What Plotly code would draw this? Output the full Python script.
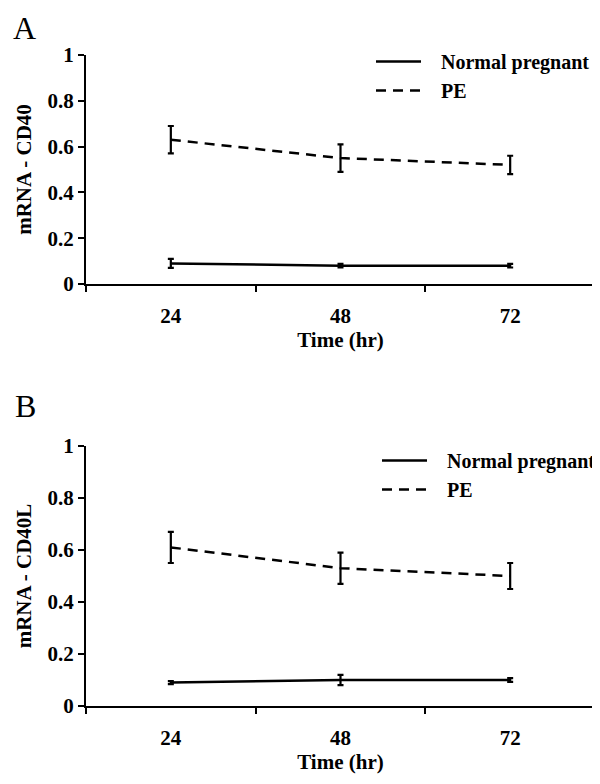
import plotly.graph_objects as go

# ---- data ----
time_labels = ["24", "48", "72"]

cd40_normal = [0.09, 0.08, 0.08]
cd40_normal_err = [0.02, 0.008, 0.008]
cd40_pe = [0.63, 0.55, 0.52]
cd40_pe_err = [0.06, 0.06, 0.04]

cd40l_normal = [0.09, 0.10, 0.10]
cd40l_normal_err = [0.006, 0.02, 0.007]
cd40l_pe = [0.61, 0.53, 0.50]
cd40l_pe_err = [0.06, 0.06, 0.05]

series_names = ["Normal pregnant", "PE"]

# page is 600x784; the browser's default 8px body margin offsets the figure
OFF = 8
W, H = 600 - OFF, 784 - OFF
FONT = "Liberation Serif"
BLACK = "#000000"
PAD = "\u00a0\u00a0\u00a0"


def py(p):
    """page pixel (from top) -> paper y"""
    return 1 - (p - OFF) / H


def px_x(p):
    """page pixel (from left) -> paper x"""
    return (p - OFF) / W


fig = go.Figure()


def add_panel(xa, ya, normal, nerr, pe, peerr, legend):
    fig.add_trace(go.Scatter(
        x=time_labels, y=normal, name=PAD + series_names[0], mode="lines",
        line=dict(color=BLACK, width=2.5),
        error_y=dict(type="data", array=nerr, visible=True, color=BLACK,
                     thickness=2.2, width=3),
        xaxis=xa, yaxis=ya, legend=legend))
    fig.add_trace(go.Scatter(
        x=time_labels, y=pe, name=PAD + series_names[1], mode="lines",
        line=dict(color=BLACK, width=2.5, dash="10px,7px"),
        error_y=dict(type="data", array=peerr, visible=True, color=BLACK,
                     thickness=2.2, width=3),
        xaxis=xa, yaxis=ya, legend=legend))


add_panel("x", "y", cd40_normal, cd40_normal_err, cd40_pe, cd40_pe_err, "legend")
add_panel("x2", "y2", cd40l_normal, cd40l_normal_err, cd40l_pe, cd40l_pe_err, "legend2")

tick_font = dict(family=FONT, size=21, color=BLACK, weight="bold")
title_font = dict(family=FONT, size=21, color=BLACK, weight="bold")
legend_font = dict(family=FONT, size=20, color=BLACK, weight="bold")

xaxis_common = dict(
    type="category", range=[-0.5, 2.5], showgrid=False, zeroline=False,
    showline=True, linecolor=BLACK, linewidth=2,
    ticks="outside", ticklen=6, tickwidth=1.5, tickcolor=BLACK,
    tickson="boundaries", tickfont=tick_font, ticklabelstandoff=12,
    title=dict(text="Time (hr)", font=title_font, standoff=0),
    domain=[px_x(86), px_x(595)],
)
yaxis_common = dict(
    range=[0, 1], dtick=0.2, showgrid=False, zeroline=False,
    showline=True, linecolor=BLACK, linewidth=2,
    ticks="outside", ticklen=6, tickwidth=1.5, tickcolor=BLACK,
    tickfont=tick_font,
)

fig.update_layout(
    width=W, height=H,
    margin=dict(l=0, r=0, t=0, b=0, autoexpand=False),
    paper_bgcolor="white", plot_bgcolor="white",
    xaxis=dict(**xaxis_common, anchor="y"),
    yaxis=dict(**yaxis_common, anchor="x", domain=[py(284), py(55)],
               title=dict(text="mRNA - CD40", font=title_font, standoff=10)),
    xaxis2=dict(**xaxis_common, anchor="y2"),
    yaxis2=dict(**yaxis_common, anchor="x2", domain=[py(706), py(446)],
                title=dict(text="mRNA - CD40L", font=title_font, standoff=10)),
    legend=dict(x=px_x(371), y=py(42), xanchor="left", yanchor="top",
                font=legend_font, bgcolor="rgba(0,0,0,0)", itemwidth=45,
                tracegroupgap=0),
    legend2=dict(x=px_x(377), y=py(441), xanchor="left", yanchor="top",
                 font=legend_font, bgcolor="rgba(0,0,0,0)", itemwidth=45,
                 tracegroupgap=0),
    annotations=[
        dict(text="A", x=px_x(24), y=py(8), xref="paper", yref="paper",
             xanchor="center", yanchor="top", showarrow=False,
             font=dict(family=FONT, size=32, color=BLACK)),
        dict(text="B", x=px_x(25), y=py(406), xref="paper", yref="paper",
             xanchor="center", yanchor="middle", showarrow=False,
             font=dict(family=FONT, size=32, color=BLACK)),
    ],
)

fig.write_html("out.html")
